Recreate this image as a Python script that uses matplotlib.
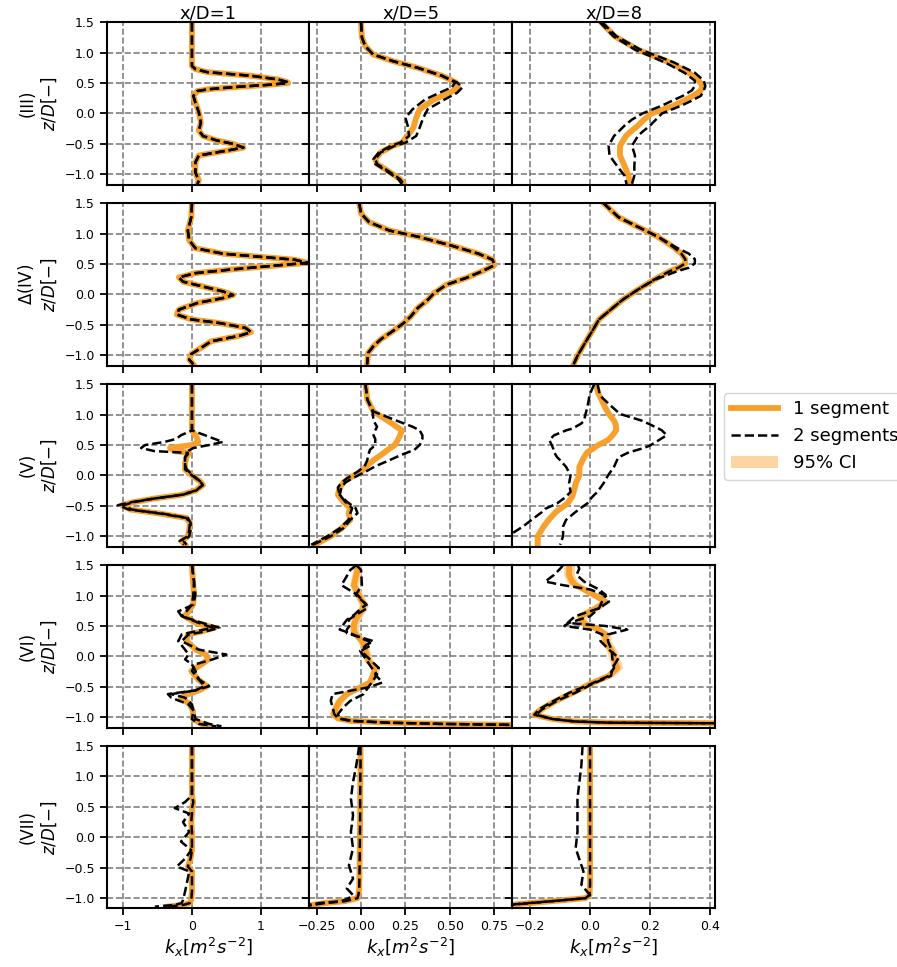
import numpy as np
import matplotlib.pyplot as plt

# columns / rows of the grid
col_titles = ['x/D=1', 'x/D=5', 'x/D=8']
row_labels = ['(III)', '$\\Delta$(IV)', '(V)', '(VI)', '(VII)']
col_xticks = [[-1, 0, 1], [-0.25, 0, 0.25, 0.5, 0.75], [-0.2, 0, 0.2, 0.4]]
col_xlims = [(-1.24, 1.71), (-0.29, 0.85), (-0.26, 0.417)]

# ---- (III) ----
z_III_1 = [1.5, 0.78, 0.73, 0.68, 0.62, 0.56, 0.52, 0.50, 0.47, 0.44, 0.40, 0.37, 0.29, 0.18, 0.02,
           -0.15, -0.28, -0.37, -0.44, -0.50, -0.56, -0.61, -0.69, -0.80, -0.97, -1.10, -1.16]
k1_III_1 = [0.0, 0.0, 0.05, 0.22, 0.86, 1.25, 1.38, 1.40, 1.10, 0.69, 0.25, 0.08, 0.02, 0.05, 0.10,
            0.13, 0.10, 0.16, 0.35, 0.60, 0.75, 0.51, 0.10, 0.05, 0.05, 0.10, 0.08]
k2a_III_1 = k1_III_1
k2b_III_1 = k1_III_1

z_III_5 = [1.5, 1.25, 1.11, 0.97, 0.86, 0.75, 0.62, 0.51, 0.43, 0.34, 0.23, 0.07, -0.07, -0.23, -0.37,
           -0.48, -0.53, -0.64, -0.75, -0.83, -0.94, -1.08, -1.16]
k1_III_5 = [0.0, 0.005, 0.023, 0.068, 0.18, 0.32, 0.455, 0.534, 0.545, 0.50, 0.41, 0.33, 0.31, 0.295, 0.26,
            0.23, 0.18, 0.11, 0.08, 0.09, 0.15, 0.22, 0.24]
k2a_III_5 = [0.0, 0.005, 0.023, 0.068, 0.18, 0.32, 0.455, 0.54, 0.57, 0.54, 0.47, 0.375, 0.35, 0.33, 0.31,
             0.25, 0.19, 0.11, 0.08, 0.09, 0.15, 0.22, 0.24]
k2b_III_5 = [0.0, 0.005, 0.023, 0.068, 0.18, 0.32, 0.455, 0.53, 0.51, 0.44, 0.36, 0.29, 0.25, 0.265, 0.27,
             0.22, 0.17, 0.10, 0.07, 0.08, 0.14, 0.21, 0.23]

z_III_8 = [1.5, 1.27, 1.05, 0.84, 0.67, 0.54, 0.45, 0.38, 0.29, 0.20, 0.13, 0.0, -0.10, -0.20, -0.30,
           -0.37, -0.53, -0.69, -0.86, -1.02, -1.16]
k1_III_8 = [0.037, 0.082, 0.16, 0.265, 0.33, 0.363, 0.376, 0.37, 0.344, 0.31, 0.28, 0.205, 0.18, 0.16, 0.135,
            0.12, 0.10, 0.10, 0.115, 0.128, 0.135]
k2a_III_8 = [0.04, 0.088, 0.168, 0.28, 0.35, 0.38, 0.385, 0.38, 0.37, 0.335, 0.305, 0.24, 0.22, 0.20, 0.175,
             0.16, 0.14, 0.15, 0.148, 0.148, 0.14]
k2b_III_8 = [0.033, 0.078, 0.15, 0.25, 0.315, 0.35, 0.35, 0.34, 0.31, 0.27, 0.24, 0.175, 0.14, 0.115, 0.095,
             0.08, 0.062, 0.065, 0.09, 0.115, 0.122]

# ---- (IV) ----
z_IV_1 = [1.5, 1.27, 1.05, 0.89, 0.76, 0.67, 0.62, 0.57, 0.52, 0.48, 0.41, 0.35, 0.28, 0.21, 0.13, 0.05,
          -0.01, -0.06, -0.14, -0.25, -0.33, -0.41, -0.47, -0.55, -0.62, -0.68, -0.77, -0.88, -0.98, -1.07, -1.15]
k1_IV_1 = [0.0, -0.01, -0.06, -0.04, 0.05, 0.45, 0.98, 1.50, 1.68, 1.27, 0.57, 0.05, -0.19, -0.13, 0.16, 0.45,
           0.60, 0.45, 0.08, -0.19, -0.22, -0.01, 0.40, 0.78, 0.86, 0.69, 0.28, 0.13, -0.01, -0.04, 0.02]
k2a_IV_1 = k1_IV_1
k2b_IV_1 = k1_IV_1

z_IV_5 = [1.5, 1.33, 1.19, 1.05, 0.95, 0.81, 0.67, 0.57, 0.48, 0.38, 0.27, 0.16, 0.02, -0.09, -0.22,
          -0.36, -0.47, -0.60, -0.74, -0.85, -0.96, -1.15]
k1_IV_5 = [-0.01, 0.0, 0.045, 0.16, 0.32, 0.50, 0.66, 0.74, 0.75, 0.68, 0.59, 0.48, 0.41, 0.375, 0.32,
           0.28, 0.24, 0.18, 0.11, 0.07, 0.04, 0.034]
k2a_IV_5 = k1_IV_5
k2b_IV_5 = k1_IV_5

z_IV_8 = [1.5, 1.27, 1.11, 0.95, 0.78, 0.67, 0.58, 0.51, 0.44, 0.38, 0.24, 0.08, -0.09, -0.25, -0.41,
          -0.58, -0.79, -1.01, -1.15]
k1_IV_8 = [0.045, 0.095, 0.16, 0.226, 0.278, 0.305, 0.318, 0.318, 0.295, 0.265, 0.213, 0.16, 0.108, 0.069, 0.03,
           0.01, -0.016, -0.042, -0.055]
k2a_IV_8 = [0.045, 0.095, 0.16, 0.226, 0.285, 0.33, 0.35, 0.35, 0.33, 0.29, 0.215, 0.16, 0.108, 0.069, 0.03,
            0.01, -0.016, -0.042, -0.055]
k2b_IV_8 = k1_IV_8

# ---- (V) ----
z_V_1 = [1.5, 0.74, 0.66, 0.60, 0.55, 0.50, 0.45, 0.40, 0.37, 0.30, 0.20, 0.10, 0.0, -0.10, -0.16,
         -0.25, -0.32, -0.38, -0.44, -0.49, -0.56, -0.63, -0.70, -0.78, -0.90, -1.0, -1.08, -1.14]
k1_V_1 = [0.0, 0.0, 0.05, 0.08, 0.09, 0.0, -0.32, -0.25, -0.04, -0.08, -0.10, -0.10, 0.0, 0.12, 0.16,
          0.05, -0.16, -0.55, -0.85, -1.02, -0.90, -0.45, -0.08, -0.03, -0.04, -0.06, -0.15, -0.10]
k2a_V_1 = [0.0, 0.0, 0.19, 0.33, 0.45, 0.25, 0.02, -0.06, -0.04, -0.10, -0.10, -0.08, 0.02, 0.12, 0.15,
           0.06, -0.14, -0.55, -0.88, -1.08, -0.92, -0.42, -0.06, -0.02, -0.02, -0.04, -0.12, -0.08]
k2b_V_1 = [0.0, 0.0, -0.16, -0.23, -0.40, -0.68, -0.74, -0.55, -0.06, -0.10, -0.10, -0.10, 0.0, 0.12, 0.16,
           0.05, -0.16, -0.55, -0.85, -1.0, -0.88, -0.45, -0.08, -0.03, -0.04, -0.06, -0.18, -0.12]

z_V_5 = [1.5, 1.25, 1.05, 0.90, 0.80, 0.74, 0.66, 0.60, 0.50, 0.42, 0.33, 0.25, 0.15, 0.06, -0.05,
         -0.12, -0.20, -0.32, -0.43, -0.54, -0.62, -0.73, -0.87, -1.0, -1.14]
k1_V_5 = [0.025, 0.035, 0.07, 0.15, 0.20, 0.23, 0.22, 0.21, 0.19, 0.15, 0.11, 0.07, 0.03, 0.0, -0.07,
          -0.10, -0.12, -0.13, -0.10, -0.06, -0.07, -0.06, -0.11, -0.17, -0.26]
k2a_V_5 = [0.025, 0.035, 0.07, 0.20, 0.29, 0.33, 0.345, 0.345, 0.33, 0.30, 0.22, 0.16, 0.08, 0.025, -0.05,
           -0.09, -0.11, -0.12, -0.08, -0.03, -0.02, -0.06, -0.10, -0.17, -0.27]
k2b_V_5 = [0.025, 0.035, 0.065, 0.07, 0.09, 0.08, 0.07, 0.08, 0.08, 0.05, 0.04, 0.035, 0.02, -0.02, -0.08,
           -0.11, -0.13, -0.12, -0.09, -0.05, -0.06, -0.07, -0.12, -0.19, -0.28]

z_V_8 = [1.5, 1.34, 1.28, 1.12, 1.01, 0.90, 0.85, 0.77, 0.74, 0.66, 0.58, 0.49, 0.44, 0.38, 0.30,
         0.25, 0.14, 0.0, -0.13, -0.27, -0.35, -0.46, -0.55, -0.60, -0.73, -0.84, -1.0, -1.14]
k1_V_8 = [0.019, 0.028, 0.035, 0.05, 0.063, 0.080, 0.085, 0.087, 0.087, 0.075, 0.060, 0.024, 0.010, -0.009, -0.02,
          -0.025, -0.036, -0.036, -0.048, -0.055, -0.060, -0.075, -0.10, -0.114, -0.138, -0.155, -0.175, -0.175]
k2a_V_8 = [0.025, 0.032, 0.040, 0.075, 0.100, 0.173, 0.195, 0.229, 0.24, 0.256, 0.230, 0.20, 0.173, 0.13, 0.096,
           0.09, 0.08, 0.06, 0.045, 0.025, 0.008, -0.009, -0.035, -0.048, -0.08, -0.09, -0.09, -0.10]
k2b_V_8 = [0.014, 0.0, -0.003, -0.009, -0.015, -0.02, -0.03, -0.059, -0.08, -0.12, -0.136, -0.127, -0.123, -0.12, -0.11,
           -0.10, -0.08, -0.065, -0.07, -0.065, -0.08, -0.11, -0.15, -0.16, -0.195, -0.224, -0.275, -0.34]

# ---- (VI) ----
z_VI_1 = [1.5, 1.23, 1.01, 0.85, 0.74, 0.66, 0.55, 0.47, 0.41, 0.36, 0.25, 0.11, 0.03, -0.05, -0.13,
          -0.24, -0.38, -0.49, -0.56, -0.62, -0.68, -0.79, -0.90, -1.03, -1.11, -1.15]
k1_VI_1 = [0.0, 0.015, 0.03, 0.015, -0.05, -0.11, 0.06, 0.33, 0.14, -0.06, -0.08, 0.06, 0.20, 0.24, 0.14,
           -0.01, 0.09, 0.22, 0.10, -0.05, -0.16, -0.03, 0.015, 0.015, 0.14, 0.23]
k2a_VI_1 = [0.0, 0.03, 0.05, 0.02, -0.20, -0.15, 0.15, 0.40, 0.20, -0.05, -0.15, 0.10, 0.50, 0.30, 0.05,
            0.0, 0.10, 0.25, 0.05, -0.35, -0.30, -0.05, 0.03, 0.05, 0.25, 0.43]
k2b_VI_1 = [0.0, 0.03, 0.02, 0.0, -0.08, -0.15, 0.10, 0.30, 0.05, -0.15, -0.20, -0.10, -0.05, -0.10, 0.0,
            0.05, 0.10, 0.18, 0.05, -0.30, -0.10, 0.0, 0.02, 0.0, 0.10, 0.35]

z_VI_5 = [1.5, 1.42, 1.17, 1.01, 0.85, 0.79, 0.68, 0.60, 0.52, 0.44, 0.38, 0.25, 0.19, 0.09, -0.08,
          -0.19, -0.30, -0.43, -0.51, -0.62, -0.73, -0.84, -0.95, -1.02, -1.06, -1.09, -1.11, -1.13]
k1_VI_5 = [-0.026, -0.02, -0.04, -0.013, 0.015, 0.01, -0.013, -0.03, -0.04, -0.04, -0.035, 0.006, 0.015, 0.025, 0.043,
           0.08, 0.07, 0.05, -0.004, -0.08, -0.12, -0.14, -0.155, -0.13, -0.06, 0.15, 0.45, 0.95]
k2a_VI_5 = [-0.026, -0.06, -0.11, -0.02, 0.03, 0.0, -0.04, -0.08, -0.10, -0.12, -0.06, 0.04, 0.06, 0.0, 0.06,
            0.10, 0.08, 0.12, 0.04, -0.16, -0.17, -0.16, -0.15, -0.13, -0.06, 0.15, 0.45, 0.95]
k2b_VI_5 = [-0.026, 0.0, 0.005, -0.03, 0.03, 0.034, -0.03, -0.07, -0.06, -0.08, -0.08, 0.07, 0.03, -0.005, 0.035,
            0.06, 0.09, 0.06, 0.04, 0.015, -0.06, -0.10, -0.13, -0.12, -0.05, 0.15, 0.45, 0.95]

z_VI_8 = [1.5, 1.44, 1.34, 1.23, 1.17, 1.10, 1.01, 0.90, 0.79, 0.66, 0.55, 0.50, 0.44, 0.36, 0.25,
          0.08, -0.02, -0.19, -0.32, -0.46, -0.60, -0.73, -0.87, -0.96, -1.03, -1.07, -1.09, -1.10]
k1_VI_8 = [-0.07, -0.07, -0.07, -0.06, -0.048, -0.02, 0.013, 0.052, 0.019, -0.031, -0.025, 0.0, 0.03, 0.052, 0.052,
           0.074, 0.08, 0.091, 0.063, -0.003, -0.059, -0.114, -0.164, -0.186, -0.125, -0.05, 0.063, 0.42]
k2a_VI_8 = [-0.09, -0.10, -0.12, -0.15, -0.09, 0.0, 0.05, 0.063, 0.03, -0.05, -0.075, 0.05, 0.124, 0.06, 0.06,
            0.074, 0.074, 0.08, 0.063, 0.0, -0.07, -0.12, -0.17, -0.186, -0.125, -0.05, 0.063, 0.42]
k2b_VI_8 = [-0.04, -0.036, -0.045, -0.02, 0.002, 0.03, 0.052, 0.04, 0.03, 0.0, -0.07, -0.086, 0.0, 0.041, 0.035,
            0.07, 0.096, 0.075, 0.07, 0.005, -0.05, -0.11, -0.16, -0.18, -0.125, -0.05, 0.063, 0.42]

# ---- (VII) ----
z_VII_1 = [1.5, 0.69, 0.58, 0.48, 0.39, 0.25, 0.09, -0.07, -0.21, -0.35, -0.48, -0.56, -0.73, -0.89,
           -1.03, -1.08, -1.11, -1.14]
k1_VII_1 = [0.0, 0.0, 0.02, 0.0, 0.0, -0.01, 0.0, 0.0, 0.0, -0.02, -0.06, 0.0, 0.0, 0.0,
            -0.01, -0.03, -0.12, -0.36]
k2a_VII_1 = [0.0, 0.0, -0.10, -0.25, -0.04, -0.13, -0.04, -0.16, -0.01, -0.10, -0.22, -0.04, -0.07, -0.10,
             -0.13, -0.15, -0.24, -0.54]
k2b_VII_1 = k1_VII_1

z_VII_5 = [1.5, 1.18, 0.91, 0.64, 0.36, 0.09, -0.18, -0.46, -0.68, -0.84, -0.95, -1.0, -1.05, -1.08, -1.11, -1.14]
k1_VII_5 = [-0.003, -0.003, -0.004, -0.005, -0.005, -0.006, -0.007, -0.008, -0.009, -0.01, -0.015, -0.02,
            -0.09, -0.2, -0.27, -0.32]
k2a_VII_5 = [-0.01, -0.027, -0.045, -0.057, -0.045, -0.057, -0.045, -0.068, -0.045, -0.08, -0.045, -0.07,
             -0.11, -0.23, -0.30, -0.34]
k2b_VII_5 = k1_VII_5

z_VII_8 = [1.5, 1.18, 0.64, 0.09, -0.18, -0.56, -0.78, -0.95, -1.0, -1.05, -1.10, -1.14]
k1_VII_8 = [0.0, 0.0, 0.0, 0.0, 0.0, 0.0, 0.0, -0.002, -0.015, -0.127, -0.244, -0.30]
k2a_VII_8 = [-0.025, -0.029, -0.042, -0.042, -0.048, -0.022, -0.029, 0.0, -0.015, -0.13, -0.25, -0.31]
k2b_VII_8 = k1_VII_8

# half width of the 95% CI band of the 1 segment fit, per panel
ci_half = [[0.01, 0.004, 0.004],
           [0.01, 0.004, 0.004],
           [0.015, 0.008, 0.009],
           [0.025, 0.025, 0.018],
           [0.006, 0.004, 0.003]]

panels = [
    [(z_III_1, k1_III_1, k2a_III_1, k2b_III_1), (z_III_5, k1_III_5, k2a_III_5, k2b_III_5), (z_III_8, k1_III_8, k2a_III_8, k2b_III_8)],
    [(z_IV_1, k1_IV_1, k2a_IV_1, k2b_IV_1), (z_IV_5, k1_IV_5, k2a_IV_5, k2b_IV_5), (z_IV_8, k1_IV_8, k2a_IV_8, k2b_IV_8)],
    [(z_V_1, k1_V_1, k2a_V_1, k2b_V_1), (z_V_5, k1_V_5, k2a_V_5, k2b_V_5), (z_V_8, k1_V_8, k2a_V_8, k2b_V_8)],
    [(z_VI_1, k1_VI_1, k2a_VI_1, k2b_VI_1), (z_VI_5, k1_VI_5, k2a_VI_5, k2b_VI_5), (z_VI_8, k1_VI_8, k2a_VI_8, k2b_VI_8)],
    [(z_VII_1, k1_VII_1, k2a_VII_1, k2b_VII_1), (z_VII_5, k1_VII_5, k2a_VII_5, k2b_VII_5), (z_VII_8, k1_VII_8, k2a_VII_8, k2b_VII_8)],
]

orange = '#f7a12c'
ci_color = '#fcd5a2'

fig, axes = plt.subplots(5, 3, figsize=(8.97, 9.67), dpi=100, sharex='col', sharey=True)
fig.subplots_adjust(left=0.119, right=0.797, top=0.977, bottom=0.0605, wspace=0, hspace=0.114)

for i in range(5):
    for j in range(3):
        ax = axes[i, j]
        z, k1, k2a, k2b = panels[i][j]
        z = np.array(z)
        k1 = np.array(k1)
        h = ci_half[i][j]
        band = ax.fill_betweenx(z, k1 - h, k1 + h, color=ci_color, lw=0, zorder=1)
        l1, = ax.plot(k1, z, color=orange, lw=4.2, zorder=2, solid_joinstyle='round')
        l2, = ax.plot(k2a, z, 'k--', lw=1.8, zorder=3)
        ax.plot(k2b, z, 'k--', lw=1.8, zorder=3)
        if i == 2 and j == 2:
            leg_handles = [l1, l2, band]

        ax.set_xlim(col_xlims[j])
        ax.set_xticks(col_xticks[j])
        ax.set_ylim(-1.17, 1.5)
        ax.set_yticks([-1.0, -0.5, 0.0, 0.5, 1.0, 1.5])
        ax.grid(True, color='gray', linestyle='--', lw=1.2)
        ax.set_axisbelow(True)
        ax.tick_params(labelsize=9, width=1.3, length=5)
        for s in ax.spines.values():
            s.set_linewidth(1.5)
        if i == 0:
            ax.set_title(col_titles[j], fontsize=13, pad=2)
        if j == 0:
            ax.set_ylabel(row_labels[i] + '\n$z/D[-]$', fontsize=12)
        if i == 4:
            ax.set_xlabel('$k_x[m^2s^{-2}]$', fontsize=13, labelpad=2)

axes[2, 2].legend(leg_handles, ['1 segment', '2 segments', '95% CI'], loc='upper left',
                  bbox_to_anchor=(1.0, 1.0), fontsize=13, handlelength=2.6)

plt.savefig('out.png', dpi=100)
